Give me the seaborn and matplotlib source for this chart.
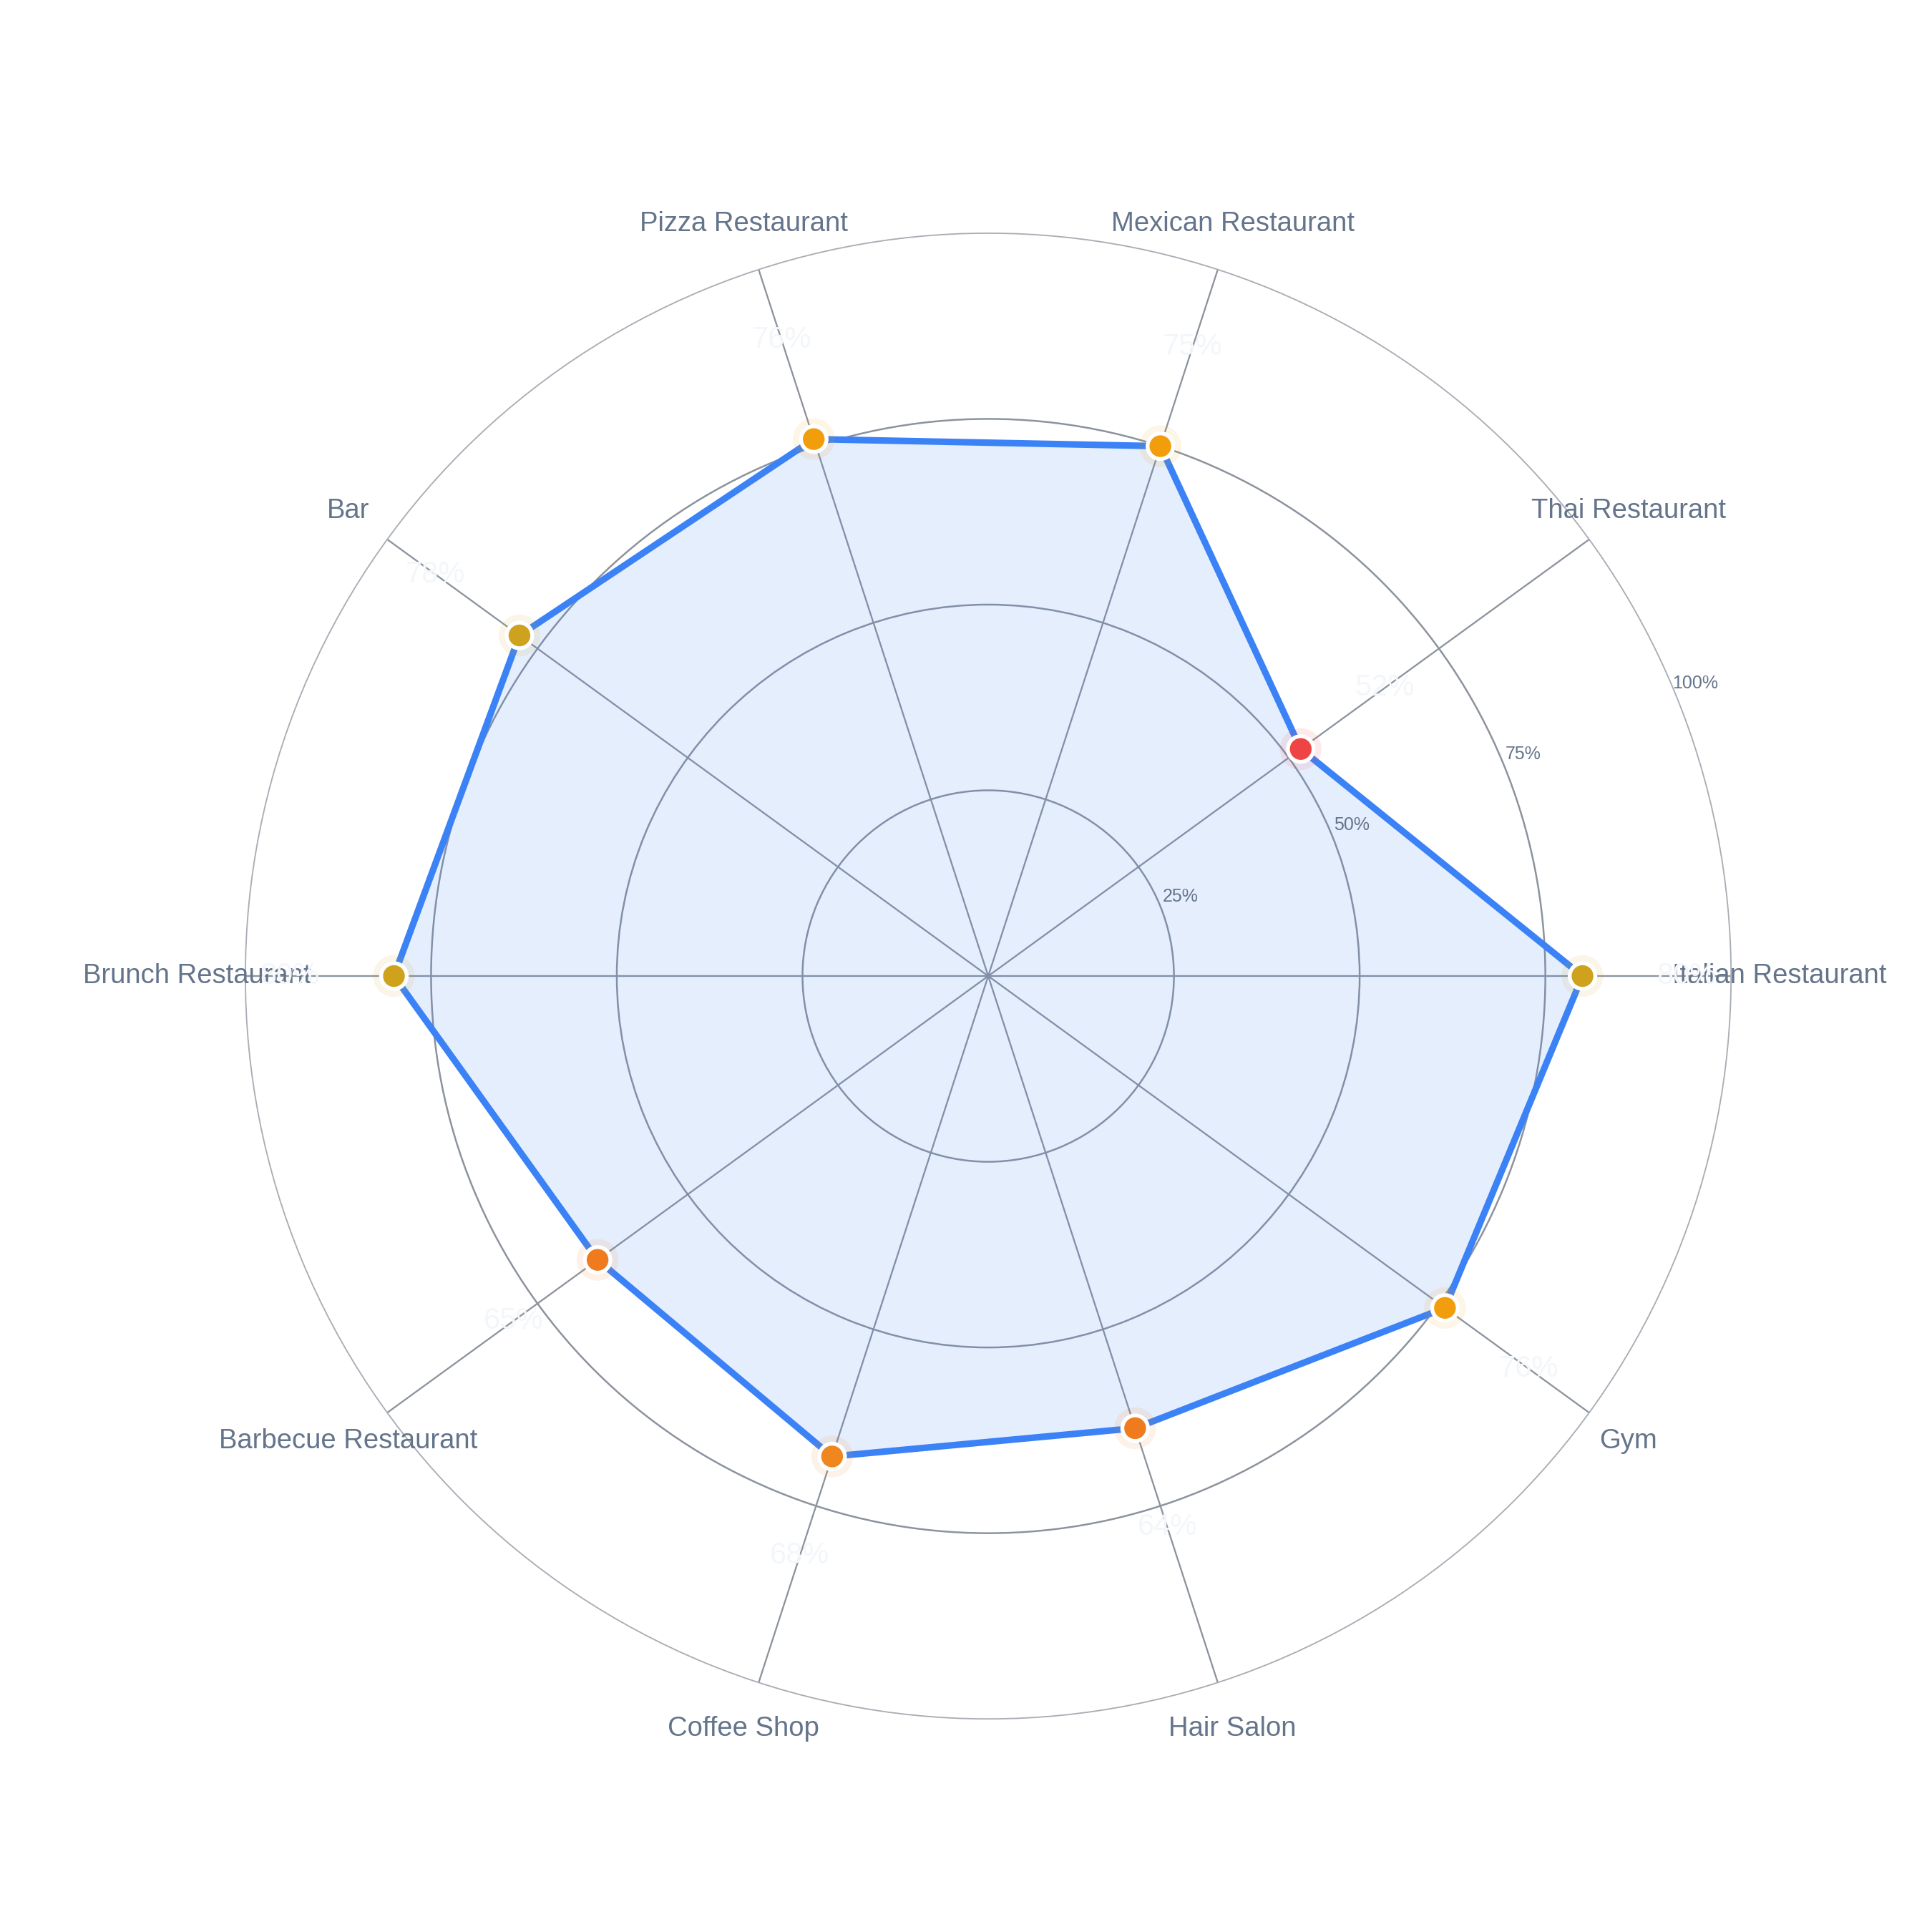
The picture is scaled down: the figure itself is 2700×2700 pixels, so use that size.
import numpy as np
import matplotlib
matplotlib.use("Agg")
import matplotlib.pyplot as plt
import seaborn as sns

# Data
categories = ["Italian Restaurant", "Thai Restaurant", "Mexican Restaurant", "Pizza Restaurant",
              "Bar", "Brunch Restaurant", "Barbecue Restaurant", "Coffee Shop", "Hair Salon", "Gym"]
values = [80, 52, 75, 76, 78, 80, 65, 68, 64, 76]
point_colors = ["#CFA21E", "#EF4444", "#F29E0C", "#F29E0C", "#CFA21E",
                "#CFA21E", "#F07B1E", "#F0861E", "#F07B1E", "#F29E0C"]
radial_ticks = [25, 50, 75, 100]
radial_labels = ["25%", "50%", "75%", "100%"]

sns.set_theme(style="white")
plt.rcParams["font.family"] = ["Liberation Sans", "DejaVu Sans"]

n = len(categories)
theta = np.linspace(0, 2 * np.pi, n, endpoint=False)
theta_closed = np.append(theta, 2 * np.pi)
vals_closed = np.append(values, values[0])

fig = plt.figure(figsize=(9, 9), dpi=300)
fig.patch.set_facecolor("white")
ax = fig.add_axes([0.127, 0.1103, 0.769, 0.769], projection="polar")
ax.set_facecolor("white")
ax.set_ylim(0, 100)

# Grid
ax.set_yticks(radial_ticks[:-1])
ax.set_yticklabels([])
ax.set_xticks(theta)
ax.set_xticklabels([])
ax.yaxis.grid(True, color="#8C939D", linewidth=0.6)
ax.xaxis.grid(True, color="#8C939D", linewidth=0.55)
ax.spines["polar"].set_color("#A9AEB5")
ax.spines["polar"].set_linewidth(0.45)

# Fill and line
ax.fill(theta_closed, vals_closed, color="#3B82F6", alpha=0.13, zorder=2, linewidth=0)
sns.lineplot(x=theta_closed, y=vals_closed, sort=False, estimator=None, ax=ax,
             color="#3B82F6", linewidth=2.2, zorder=3)

# Markers with soft halo
palette = dict(zip(categories, point_colors))
sns.scatterplot(x=theta, y=values, hue=categories, palette=palette, s=14 ** 2,
                alpha=0.1, linewidth=0, legend=False, ax=ax, zorder=4)
sns.scatterplot(x=theta, y=values, hue=categories, palette=palette, s=8.6 ** 2,
                edgecolor="white", linewidth=1.3, legend=False, ax=ax, zorder=5)

# Value labels (faint)
for t, v in zip(theta, values):
    ax.text(t, v + 14, f"{v}%", color="#F3F6FA", fontsize=10, ha="center", va="center", zorder=6)

# Category labels
for t, c in zip(theta, categories):
    ax.text(t, 106.5, c, color="#64748B", fontsize=9.2, ha="center", va="center")

# Radial tick labels
for r, lab in zip(radial_ticks, radial_labels):
    ax.text(np.deg2rad(22.5), r + 3, lab, color="#64748B", fontsize=6, ha="center", va="center", zorder=6)

ax.set_xlabel("")
ax.set_ylabel("")

fig.savefig("out.png", dpi=300, facecolor="white")
